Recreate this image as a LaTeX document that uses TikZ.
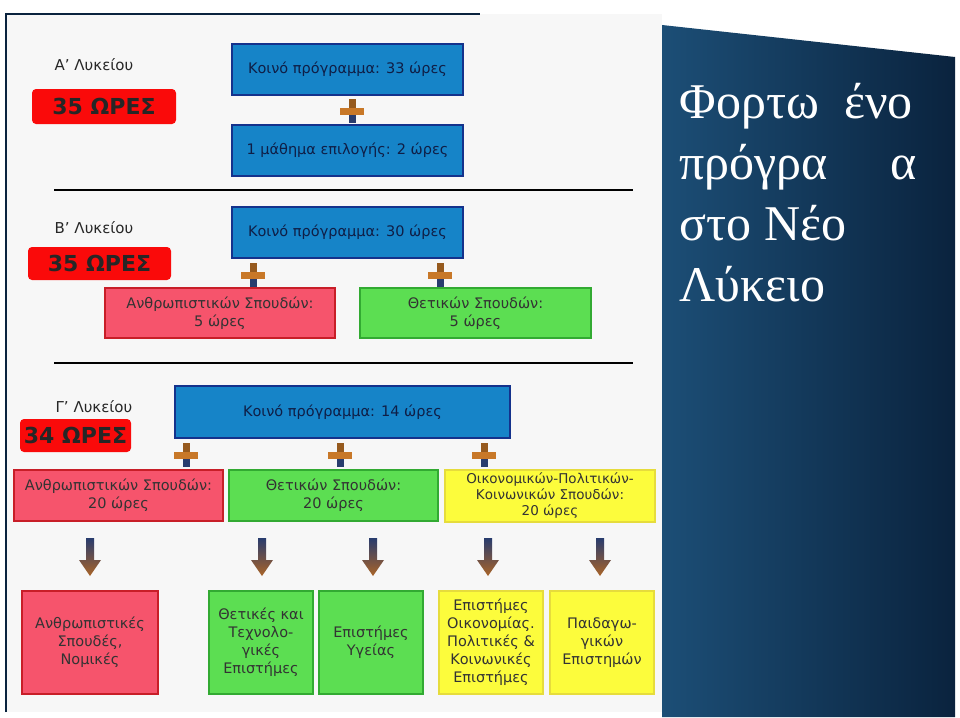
\documentclass[tikz,border=0pt]{standalone}
\usepackage{fontspec}
\setmainfont{DejaVu Sans}
\newfontfamily\titlefont{Liberation Serif}
\definecolor{bluebox}{RGB}{22,132,200}
\definecolor{blueedge}{RGB}{20,50,140}
\definecolor{navytxt}{RGB}{15,30,70}
\definecolor{redbox}{RGB}{250,10,10}
\definecolor{pinkbox}{RGB}{246,84,108}
\definecolor{pinkedge}{RGB}{200,30,40}
\definecolor{greenbox}{RGB}{92,222,82}
\definecolor{greenedge}{RGB}{50,170,50}
\definecolor{yellowbox}{RGB}{252,252,60}
\definecolor{yellowedge}{RGB}{230,220,60}
\definecolor{panel}{RGB}{10,35,62}
\definecolor{panellight}{RGB}{28,78,118}
\definecolor{plusc}{RGB}{200,120,40}
\definecolor{arrowtop}{RGB}{40,60,110}
\definecolor{arrowbot}{RGB}{170,100,40}
\begin{document}
\begin{tikzpicture}[x=1pt,y=-1pt,
  box/.style={draw,line width=1.5pt,inner sep=0pt,align=center,font=\fontsize{14.5}{18}\selectfont},
  bluebx/.style={box,fill=bluebox,draw=blueedge,text=navytxt},
  pinkbx/.style={box,fill=pinkbox,draw=pinkedge,text=black!80},
  greenbx/.style={box,fill=greenbox,draw=greenedge,text=black!80},
  yellowbx/.style={box,fill=yellowbox,draw=yellowedge,text=black!80},
  bigbx/.style={font=\fontsize{14.5}{18}\selectfont},
  hours/.style={fill=redbox,rounded corners=4pt,inner sep=0pt,font=\fontsize{22}{24}\selectfont\bfseries,text=black!85},
  grade/.style={font=\fontsize{15}{17}\selectfont,text=black!85},
  sep/.style={line width=1.5pt,black}]
\useasboundingbox (0,0) rectangle (960,717);
\fill[white] (0,0) rectangle (960,717);
% left panel
\fill[black!3] (6,14) rectangle (662,712);
\draw[panel,line width=2.5pt] (6,712) -- (6,14) -- (480,14);
% right panel
\shade[left color=panellight,right color=panel] (662,25) -- (955,57) -- (955,717) -- (662,717) -- cycle;
\node[anchor=north west,align=left,text=white,font=\titlefont\fontsize{50}{61}\selectfont] (title) at (676,80)
 {Φορτω\ \ ένο\\πρόγρα\ \ \ \ \ α\\στο Νέο\\Λύκειο};
% A
\node[grade] (ga) at (94,65) {Α’ Λυκείου};
\node[hours,minimum width=144pt,minimum height=35pt] (ha) at (104,106.5) {35 ΩΡΕΣ};
\node[bluebx,minimum width=231pt,minimum height=51pt] (a1) at (347.5,69.5) {Κοινό πρόγραμμα: 33 ώρες};
\node[bluebx,minimum width=231pt,minimum height=51pt] (a2) at (347.5,150.5) {1 μάθημα επιλογής: 2 ώρες};
\draw[sep] (54,190) -- (633,190);
% B
\node[grade] (gb) at (94,228) {Β’ Λυκείου};
\node[hours,minimum width=143pt,minimum height=33pt] (hb) at (99.5,263.5) {35 ΩΡΕΣ};
\node[bluebx,minimum width=231pt,minimum height=51pt] (b1) at (347.5,232.5) {Κοινό πρόγραμμα: 30 ώρες};
\node[pinkbx,minimum width=230pt,minimum height=50pt] (b2) at (220,313) {Ανθρωπιστικών Σπουδών:\\5 ώρες};
\node[greenbx,minimum width=231pt,minimum height=50pt] (b3) at (475.5,313) {Θετικών Σπουδών:\\5 ώρες};
\draw[sep] (54,363) -- (633,363);
% C
\node[grade] (gc) at (94,407) {Γ’ Λυκείου};
\node[hours,minimum width=111pt,minimum height=33pt] (hc) at (75.5,435.5) {34 ΩΡΕΣ};
\node[bluebx,minimum width=335pt,minimum height=52pt] (c1) at (342.5,412) {Κοινό πρόγραμμα: 14 ώρες};
\node[pinkbx,minimum width=209pt,minimum height=51pt] (c2) at (118.5,495.5) {Ανθρωπιστικών Σπουδών:\\20 ώρες};
\node[greenbx,minimum width=209pt,minimum height=51pt] (c3) at (333.5,495.5) {Θετικών Σπουδών:\\20 ώρες};
\node[yellowbx,minimum width=210pt,minimum height=52pt,font=\fontsize{13.5}{16}\selectfont] (c4) at (550,496) {Οικονομικών-Πολιτικών-\\Κοινωνικών Σπουδών:\\20 ώρες};
% bottom
\node[pinkbx,minimum width=136pt,minimum height=103pt,bigbx] (d1) at (90,642.5) {Ανθρωπιστικές\\Σπουδές,\\Νομικές};
\node[greenbx,minimum width=104pt,minimum height=103pt,bigbx] (d2) at (261,642.5) {Θετικές και\\Τεχνολο-\\γικές\\Επιστήμες};
\node[greenbx,minimum width=104pt,minimum height=103pt,bigbx] (d3) at (371,642.5) {Επιστήμες\\Υγείας};
\node[yellowbx,minimum width=104pt,minimum height=103pt,bigbx] (d4) at (491,642.5) {Επιστήμες\\Οικονομίας.\\Πολιτικές \&\\Κοινωνικές\\Επιστήμες};
\node[yellowbx,minimum width=104pt,minimum height=103pt,bigbx] (d5) at (602,642.5) {Παιδαγω-\\γικών\\Επιστημών};
% plus signs
\foreach \n/\px/\py in {p1/352/111,p2/253/275,p3/440/275,p4/186/455,p5/340/455,p6/484/455}{
  \coordinate (\n) at (\px,\py);
  \fill[plusc] ([xshift=-12pt,yshift=-3.5pt]\n) rectangle ([xshift=12pt,yshift=3.5pt]\n);
  \fill[arrowtop] ([xshift=-3.5pt,yshift=-12pt]\n) rectangle ([xshift=3.5pt,yshift=-3.5pt]\n);
  \fill[plusc!75!black] ([xshift=-3.5pt,yshift=3.5pt]\n) rectangle ([xshift=3.5pt,yshift=12pt]\n);
}
% arrows
\foreach \n/\px in {q1/90,q2/262,q3/373,q4/488,q5/600}{
  \coordinate (\n) at (\px,538);
  \shade[top color=arrowtop,bottom color=arrowbot]
   ([xshift=-4pt]\n) -- ([xshift=4pt]\n) -- ([xshift=4pt,yshift=-22pt]\n) -- ([xshift=11pt,yshift=-22pt]\n)
   -- ([yshift=-38pt]\n) -- ([xshift=-11pt,yshift=-22pt]\n) -- ([xshift=-4pt,yshift=-22pt]\n) -- cycle;
}
\end{tikzpicture}
\end{document}
